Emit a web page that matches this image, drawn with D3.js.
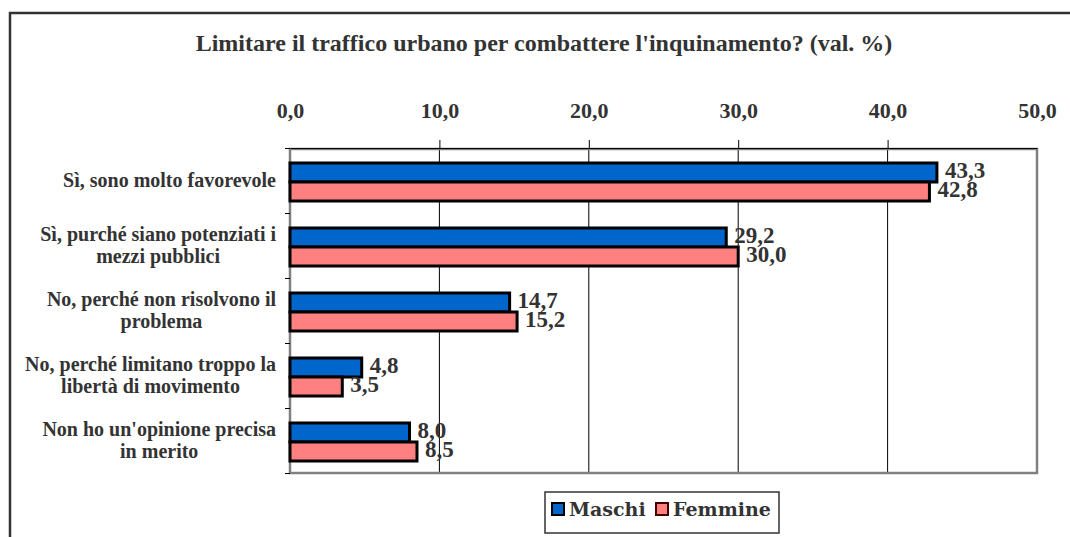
<!DOCTYPE html>
<html>
<head>
<meta charset="utf-8">
<script src="https://cdn.jsdelivr.net/npm/d3@7"></script>
<style>
  html, body { margin: 0; padding: 0; background: #fff; }
  svg { display: block; }
  .serif { font-family: "Liberation Serif", "Times New Roman", serif; font-weight: bold; fill: #333; }
  .legend-text { font-family: "DejaVu Serif", serif; font-weight: bold; fill: #333; }
</style>
</head>
<body>
<svg id="chart" width="1070" height="537"></svg>
<script>
// Survey answers and percentages by sex
const categories = [
  "Sì, sono molto favorevole",
  "Sì, purché siano potenziati i mezzi pubblici",
  "No, perché non risolvono il problema",
  "No, perché limitano troppo la libertà di movimento",
  "Non ho un'opinione precisa in merito"
];
const categoryLines = [
  ["Sì, sono molto favorevole"],
  ["Sì, purché siano potenziati i", "mezzi pubblici"],
  ["No, perché non risolvono il", "problema"],
  ["No, perché limitano troppo la", "libertà di movimento"],
  ["Non ho un'opinione precisa", "in merito"]
];
const seriesNames = ["Maschi", "Femmine"];
const maschi  = [43.3, 29.2, 14.7, 4.8, 8.0];
const femmine = [42.8, 30.0, 15.2, 3.5, 8.5];
const xTickValues = [0, 10, 20, 30, 40, 50];
const titleText = "Limitare il traffico urbano per combattere l'inquinamento? (val. %)";

const colors = { Maschi: "#0066CC", Femmine: "#FF8080" };
const seriesValues = { Maschi: maschi, Femmine: femmine };

const svg = d3.select("#chart");
const plot = { left: 290, right: 1037, top: 148, bottom: 473 };

const fmt = v => d3.format(".1f")(v).replace(".", ",");

// Outer frame (runs past the right and bottom edges)
svg.append("rect")
  .attr("x", 10).attr("y", 13)
  .attr("width", 1120).attr("height", 600)
  .attr("fill", "none").attr("stroke", "#333").attr("stroke-width", 2.5);

// Title
svg.append("text")
  .attr("class", "serif")
  .attr("x", 544).attr("y", 51)
  .attr("text-anchor", "middle")
  .style("font-size", "24px")
  .text(titleText);

// Scales
const x = d3.scaleLinear().domain([0, 50]).range([plot.left, plot.right]);
const y0 = d3.scaleBand().domain(categories).range([plot.top, plot.bottom]).paddingInner(0).paddingOuter(0);
const y1 = d3.scaleBand().domain(seriesNames).range([15, 53]).padding(0);

// Vertical gridlines
svg.append("g")
  .selectAll("line")
  .data(xTickValues.filter(v => v > 0 && v < 50))
  .join("line")
  .attr("x1", d => x(d)).attr("x2", d => x(d))
  .attr("y1", plot.top).attr("y2", plot.bottom)
  .attr("stroke", "#000").attr("stroke-width", 1);

// Plot area border
svg.append("rect")
  .attr("x", plot.left).attr("y", plot.top + 1)
  .attr("width", plot.right - plot.left).attr("height", plot.bottom - plot.top - 1)
  .attr("fill", "none").attr("stroke", "#808080").attr("stroke-width", 2.5);

// Top value axis
const xAxis = svg.append("g")
  .attr("transform", `translate(0,${plot.top})`)
  .call(d3.axisTop(x).tickValues(xTickValues).tickSize(8).tickSizeOuter(0).tickPadding(22).tickFormat(fmt));
xAxis.select(".domain").attr("stroke", "#000");
xAxis.selectAll(".tick line").attr("stroke", "#000")
  .attr("opacity", d => (d === 0 || d === 50) ? 0 : 1);
xAxis.selectAll(".tick text")
  .attr("class", "serif")
  .attr("fill", "#333")
  .style("font-size", "22px");

// Category axis ticks at band boundaries
const yIdx = d3.scaleLinear().domain([0, categories.length]).range([plot.top, plot.bottom]);
const yAxis = svg.append("g")
  .attr("transform", `translate(${plot.left},0)`)
  .call(d3.axisLeft(yIdx).ticks(categories.length).tickSize(5).tickFormat(""));
yAxis.select(".domain").remove();
yAxis.selectAll(".tick line").attr("stroke", "#000");

// Category labels: each block is right-aligned, its lines centred within it
const labelRight = 276;
const lineGap = 22;
categories.forEach((c, i) => {
  const cy = y0(c) + y0.bandwidth() / 2;
  const lines = categoryLines[i];
  const t = svg.append("text")
    .attr("class", "serif")
    .attr("text-anchor", "middle")
    .style("font-size", "20px");
  const spans = lines.map((ln, j) => t.append("tspan")
    .attr("y", cy + 6 + (j - (lines.length - 1) / 2) * lineGap)
    .text(ln));
  const maxW = d3.max(spans, s => s.node().getComputedTextLength());
  spans.forEach(s => s.attr("x", labelRight - maxW / 2));
});

// Bars
const rows = categories.map((c, i) => ({ c, values: seriesNames.map(s => ({ s, v: seriesValues[s][i] })) }));
const groups = svg.append("g").selectAll("g")
  .data(rows)
  .join("g")
  .attr("transform", d => `translate(0,${y0(d.c)})`);

groups.selectAll("rect")
  .data(d => d.values)
  .join("rect")
  .attr("x", x(0))
  .attr("y", d => y1(d.s))
  .attr("width", d => x(d.v) - x(0))
  .attr("height", y1.bandwidth())
  .attr("fill", d => colors[d.s])
  .attr("stroke", "#000")
  .attr("stroke-width", 3);

// Value labels
groups.selectAll("text")
  .data(d => d.values)
  .join("text")
  .attr("class", "serif")
  .attr("x", d => x(d.v) + 8)
  .attr("y", d => y1(d.s) + y1.bandwidth() / 2 + 5)
  .style("font-size", "23px")
  .text(d => fmt(d.v));

// Legend
const legend = svg.append("g").attr("transform", "translate(545,492)");
legend.append("rect")
  .attr("width", 234).attr("height", 41)
  .attr("fill", "#fff").attr("stroke", "#333").attr("stroke-width", 1.5);
const legendX = [7, 111];
seriesNames.forEach((s, i) => {
  legend.append("rect")
    .attr("x", legendX[i]).attr("y", 11)
    .attr("width", 12).attr("height", 12)
    .attr("fill", colors[s]).attr("stroke", i === 0 ? "#000" : "#400").attr("stroke-width", 2);
  legend.append("text")
    .attr("class", "legend-text")
    .attr("x", legendX[i] + 17).attr("y", 24)
    .style("font-size", "19px")
    .text(s);
});
</script>
</body>
</html>
